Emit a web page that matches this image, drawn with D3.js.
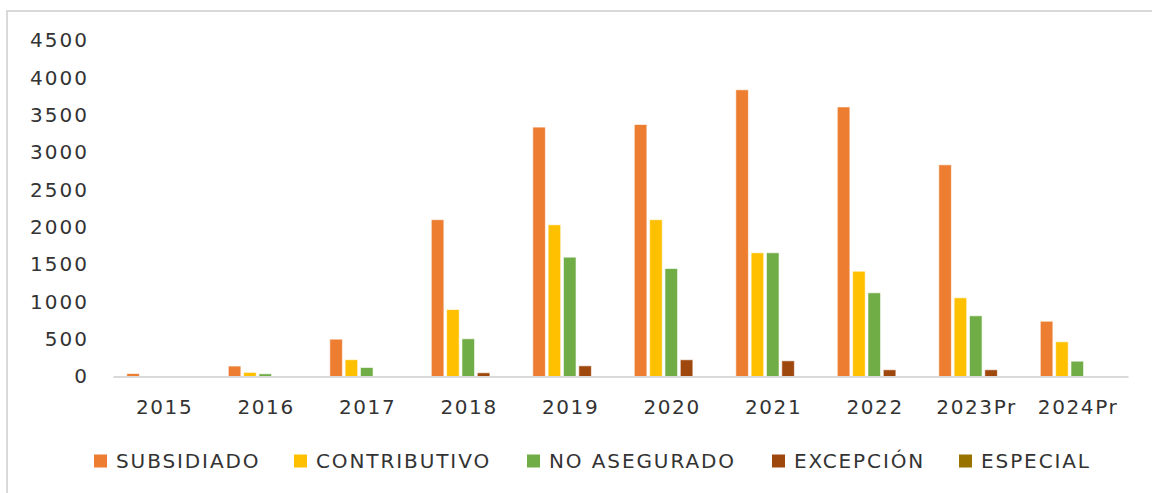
<!DOCTYPE html>
<html>
<head>
<meta charset="utf-8">
<script src="https://cdn.jsdelivr.net/npm/d3@7"></script>
<style>
  body { margin: 0; background: #fff; }
  text { font-family: "DejaVu Sans", Verdana, sans-serif; fill: #333; }
</style>
</head>
<body>
<div id="chart"></div>
<script>
// data
var years = ["2015", "2016", "2017", "2018", "2019", "2020", "2021", "2022", "2023Pr", "2024Pr"];
var series = ["SUBSIDIADO", "CONTRIBUTIVO", "NO ASEGURADO", "EXCEPCIÓN", "ESPECIAL"];
var colors = ["#ED7D31", "#FFC000", "#70AD47", "#9E480E", "#997300"];
var subsidiado   = [40, 140, 500, 2100, 3340, 3375, 3840, 3610, 2835, 740];
var contributivo = [0, 55, 225, 897, 2032, 2100, 1657, 1410, 1054, 465];
var noAsegurado  = [0, 36, 120, 505, 1598, 1446, 1657, 1121, 813, 205];
var excepcion    = [0, 0, 0, 50, 143, 224, 210, 90, 90, 0];
var especial     = [0, 0, 0, 0, 0, 0, 0, 0, 0, 0];
var yTicks = [0, 500, 1000, 1500, 2000, 2500, 3000, 3500, 4000, 4500];

var values = [subsidiado, contributivo, noAsegurado, excepcion, especial];
var table = years.map(function (yr, i) {
    var row = { year: yr };
    series.forEach(function (s, j) { row[s] = values[j][i]; });
    return row;
});

var W = 1152, H = 493;
var svg = d3.select("#chart").append("svg")
    .attr("width", W)
    .attr("height", H);

// outer frame (runs off the right and bottom edges)
svg.append("rect")
    .attr("x", 7).attr("y", 11)
    .attr("width", W + 20).attr("height", H + 20)
    .attr("fill", "none")
    .attr("stroke", "#d9d9d9")
    .attr("stroke-width", 2);

// scales
var x0 = d3.scaleBand()
    .domain(years)
    .range([113, 1128]);

var x1 = d3.scaleBand()
    .domain(series)
    .range([0, x0.bandwidth()])
    .paddingInner(0.18)
    .paddingOuter(0.9);

var y = d3.scaleLinear()
    .domain([0, 4500])
    .range([376.5, 40.5]);

// y axis labels
svg.append("g")
    .attr("transform", "translate(89,0)")
    .call(d3.axisLeft(y).tickValues(yTicks).tickFormat(d3.format("d")).tickSize(0).tickPadding(0))
    .call(function (g) { g.select(".domain").remove(); })
    .selectAll("text")
    .attr("font-size", 20)
    .attr("letter-spacing", "2px")
    .attr("fill", "#333")
    .style("font-family", "DejaVu Sans, sans-serif");

// bars
var groups = svg.append("g")
    .selectAll("g")
    .data(table)
    .join("g")
    .attr("transform", function (d) { return "translate(" + x0(d.year) + ",0)"; });

groups.selectAll("rect")
    .data(function (d) { return series.map(function (s, j) { return { key: s, value: d[s], color: colors[j] }; }); })
    .join("rect")
    .filter(function (d) { return d.value > 0; })
    .attr("x", function (d) { return x1(d.key); })
    .attr("y", function (d) { return y(d.value); })
    .attr("width", x1.bandwidth())
    .attr("height", function (d) { return y(0) - y(d.value); })
    .attr("fill", function (d) { return d.color; })
    .attr("stroke", "#fff")
    .attr("stroke-opacity", 0.6)
    .attr("stroke-width", 1);

// x axis
var xAxis = svg.append("g")
    .attr("transform", "translate(0," + y(0) + ")")
    .call(d3.axisBottom(x0).tickSize(0).tickPadding(23));
xAxis.select(".domain")
    .attr("stroke", "#d9d9d9")
    .attr("stroke-width", 2);
xAxis.selectAll("text")
    .attr("font-size", 20)
    .attr("letter-spacing", "1.6px")
    .attr("dx", "0.8px")
    .attr("fill", "#333")
    .style("font-family", "DejaVu Sans, sans-serif");

// legend
var legendX = [94, 294, 527, 772, 959];
var legend = svg.append("g")
    .selectAll("g")
    .data(series)
    .join("g")
    .attr("transform", function (d, i) { return "translate(" + legendX[i] + ",461)"; });

legend.append("rect")
    .attr("x", 0).attr("y", -6.5)
    .attr("width", 13).attr("height", 13)
    .attr("fill", function (d, i) { return colors[i]; });

legend.append("text")
    .attr("x", 22)
    .attr("dy", "0.36em")
    .attr("font-size", 20)
    .attr("letter-spacing", "1.9px")
    .text(function (d) { return d; });
</script>
</body>
</html>
